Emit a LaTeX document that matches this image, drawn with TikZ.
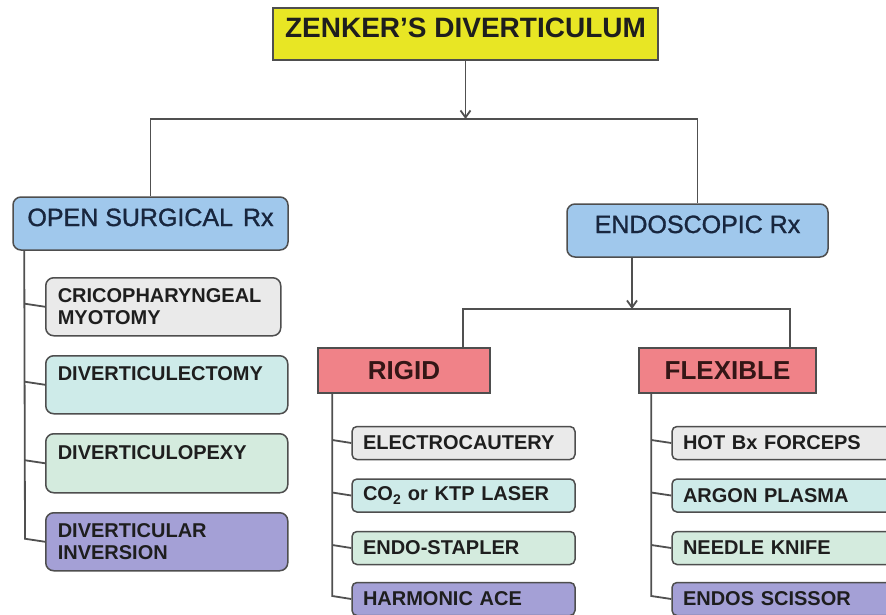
\documentclass[tikz,border=0pt]{standalone}
\usepackage{fontspec}
\setmainfont{Liberation Sans}
\newfontfamily\semibold[FakeBold=1.2]{Liberation Sans}
\usetikzlibrary{arrows.meta,calc}
\definecolor{cyellow}{RGB}{232,230,36}
\definecolor{cblue}{RGB}{160,200,236}
\definecolor{cgray}{RGB}{234,234,234}
\definecolor{cteal}{RGB}{206,235,233}
\definecolor{cmint}{RGB}{212,235,222}
\definecolor{cpurple}{RGB}{164,160,214}
\definecolor{cpink}{RGB}{240,130,136}
\definecolor{cline}{RGB}{80,80,80}
\definecolor{cborder}{RGB}{78,78,78}
\definecolor{cnavy}{RGB}{24,38,62}
\definecolor{ctext}{RGB}{30,30,30}
\definecolor{cmaroon}{RGB}{52,22,22}
\newcommand\topleft[2]{\parbox[t][36pt][t]{#1}{\raggedright #2}}
\begin{document}
\begin{tikzpicture}[x=1pt,y=-1pt,
  box/.style={draw=cborder,line width=1.5pt,inner sep=0pt},
  titlebox/.style={box,fill=cyellow,minimum width=385pt,inner ysep=10pt,
    text height=20pt,text depth=12pt,text=ctext,font=\fontsize{28}{30}\selectfont\bfseries},
  bluebox/.style={box,fill=cblue,rounded corners=8pt,minimum height=53pt,inner ysep=11pt,
    text height=18pt,text depth=13pt,text=cnavy,font=\fontsize{25}{27}\semibold},
  redbox/.style={box,fill=cpink,minimum height=45pt,text=cmaroon,
    font=\fontsize{26}{28}\selectfont\bfseries},
  leftitem/.style={box,rounded corners=8pt,anchor=north west,inner xsep=12pt,inner ysep=11pt,
    text=ctext,font=\fontsize{20}{22}\selectfont\bfseries},
  smallitem/.style={box,rounded corners=5pt,minimum height=33pt,inner xsep=11pt,align=left,
    text=ctext,font=\fontsize{20}{22}\selectfont\bfseries},
  ritem/.style={smallitem,minimum width=223pt,text width=201pt},
  fitem/.style={smallitem,minimum width=228pt,text width=206pt},
  conn/.style={draw=cline,line width=1.8pt},
  arr/.style={conn,-{Straight Barb[length=7pt,width=10pt]}}]
\useasboundingbox (0,0) rectangle (886,615);
\clip (0,0) rectangle (886,615);
\fill[white] (0,0) rectangle (886,615);

% main nodes
\node[titlebox] (title) at (465.5,34) {ZENKER’S DIVERTICULUM};
\node[bluebox,minimum width=275pt] (open) at (150.5,223.5) {OPEN SURGICAL\kern3pt\ Rx};
\node[bluebox,minimum width=261pt] (endo) at (697.5,230.5) {ENDOSCOPIC Rx};
\node[redbox,minimum width=172pt] (rigid) at (404,370.5) {RIGID};
\node[redbox,minimum width=177pt] (flex) at (727.5,370.5) {FLEXIBLE};

% open surgical items
\node[leftitem,fill=cgray,minimum height=58pt] (crico) at (45,277) {\topleft{211pt}{CRICOPHARYNGEAL\\MYOTOMY}};
\node[leftitem,fill=cteal,minimum height=58pt] (ectomy) at (45,355) {\topleft{218pt}{DIVERTICULECTOMY}};
\node[leftitem,fill=cmint,minimum height=59pt] (pexy) at (45,433) {\topleft{218pt}{DIVERTICULOPEXY}};
\node[leftitem,fill=cpurple,minimum height=58pt] (inv) at (45,512) {\topleft{218pt}{DIVERTICULAR\\INVERSION}};

% rigid items
\node[ritem,fill=cgray] (r1) at (463.5,443) {ELECTROCAUTERY};
\node[ritem,fill=cteal] (r2) at (463.5,495.5) {CO\textsubscript{2} or KTP LASER};
\node[ritem,fill=cmint] (r3) at (463.5,548) {ENDO-STAPLER};
\node[ritem,fill=cpurple] (r4) at (463.5,599) {HARMONIC ACE};

% flexible items
\node[fitem,fill=cgray] (f1) at (786,443) {HOT Bx FORCEPS};
\node[fitem,fill=cteal] (f2) at (786,495.5) {ARGON PLASMA};
\node[fitem,fill=cmint] (f3) at (786,548) {NEEDLE KNIFE};
\node[fitem,fill=cpurple] (f4) at (786,599) {ENDOS SCISSOR};

% top connectors
\coordinate (j1) at (465.5,119);
\draw[arr] (title.south) -- (j1);
\draw[conn] (open.north) |- (j1) -| (endo.north);
\coordinate (j2) at (632,309);
\draw[arr] (j2 |- endo.south) -- (j2);
\draw[conn] ($(rigid.north)+(59,0)$) |- (j2) -| ($(flex.north)+(62.5,0)$);

% open surgical trunk
\coordinate (lt) at ($(open.south west)+(12,0)$);
\draw[conn] (lt) -- ($(inv.west)+(-20,-3)$) -- (inv.west);
\foreach \n in {crico,ectomy,pexy}{\draw[conn] ($(\n.west)+(-20,-3)$) -- (\n.west);}

% rigid trunk
\coordinate (rt) at ($(rigid.south west)+(15,0)$);
\draw[conn] (rt) -- ($(r4.west)+(-19,-3)$) -- (r4.west);
\foreach \n in {r1,r2,r3}{\draw[conn] ($(\n.west)+(-19,-3)$) -- (\n.west);}

% flexible trunk
\coordinate (ft) at ($(flex.south west)+(13,0)$);
\draw[conn] (ft) -- ($(f4.west)+(-20,-3)$) -- (f4.west);
\foreach \n in {f1,f2,f3}{\draw[conn] ($(\n.west)+(-20,-3)$) -- (\n.west);}
\end{tikzpicture}
\end{document}
